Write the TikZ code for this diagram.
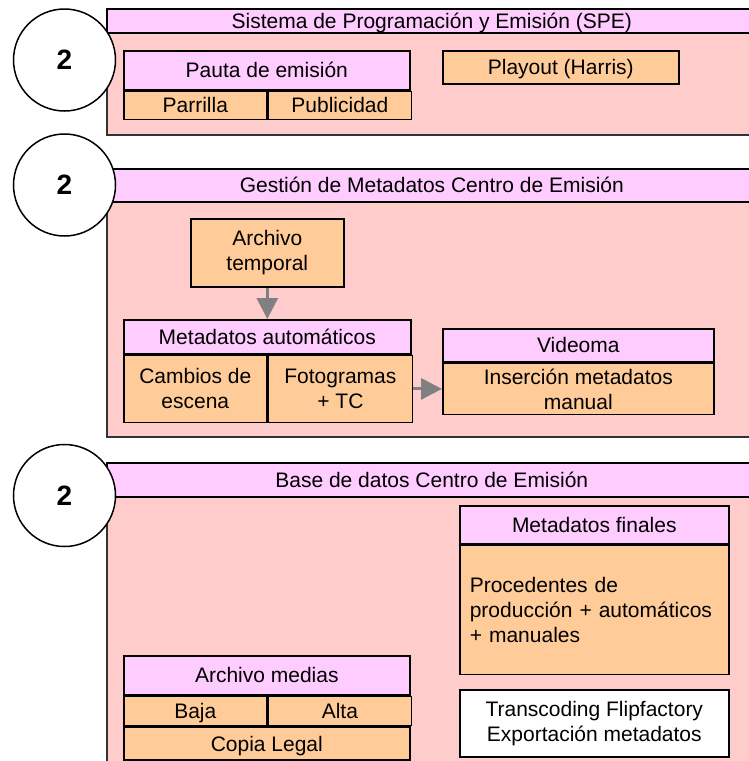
\documentclass[tikz,border=0pt]{standalone}
\usepackage{fontspec}
\setmainfont{Liberation Sans}
\usetikzlibrary{arrows.meta,positioning}

\definecolor{titlepink}{HTML}{FFCCFF}
\definecolor{bodypink}{HTML}{FFCCCC}
\definecolor{cellorange}{HTML}{FFCC99}
\definecolor{arrowgray}{HTML}{808080}

\begin{document}
\begin{tikzpicture}[x=1pt,y=-1pt,
        font=\fontsize{21}{25}\selectfont,
        sect/.style={draw=black!80, line width=1.6pt, fill=bodypink, anchor=north west, inner sep=0pt, minimum width=650pt},
        bar/.style={draw=black, line width=1.6pt, fill=titlepink, anchor=north west, inner sep=0pt, text height=15pt, text depth=0pt},
        cell/.style={draw=black, line width=1.6pt, fill=cellorange, anchor=north west, inner sep=0pt},
        one/.style={text height=15pt, text depth=0pt},
        num/.style={circle, draw, line width=1.5pt, fill=white, minimum size=102pt, inner sep=0pt, font=\fontsize{28}{30}\selectfont\bfseries},
        flecha/.style={-{Triangle[length=21pt,width=21pt]}, line width=3pt, draw=arrowgray}]

        \useasboundingbox (0,0) rectangle (749,761);
        \clip (0,0) rectangle (749,761);

        %Sistema de Programacion y Emision
        \node[sect, minimum height=126pt] (spe) at (106,8) {};
        \node[bar, minimum width=650pt, minimum height=24pt] (spetitulo) at (106,8) {Sistema de Programación y Emisión (SPE)};
        \node[num] (num1) at (64.5,60) {2};

        %Pauta de emision
        \node[bar, minimum width=286pt, minimum height=39pt] (pauta) at (123,50) {Pauta de emisión};
        \node[cell, one, minimum width=143pt, minimum height=28pt] (parrilla) at (pauta.south west) {Parrilla};
        \node[cell, one, minimum width=143pt, minimum height=28pt] (publicidad) at (parrilla.north east) {Publicidad};

        %Playout
        \node[cell, one, minimum width=236pt, minimum height=33pt] (playout) at (442,50) {Playout (Harris)};


        %Gestion de Metadatos Centro de Emision
        \node[sect, minimum height=268pt] (gestion) at (106,168) {};
        \node[bar, minimum width=650pt, minimum height=33pt] (gestiontitulo) at (106,168) {Gestión de Metadatos Centro de Emisión};
        \node[num] (num2) at (64.5,185) {2};

        %Archivo temporal
        \node[cell, align=center, minimum width=153pt, minimum height=68pt] (temporal) at (190,218) {Archivo\\temporal};

        %Metadatos automaticos
        \node[bar, minimum width=287pt, minimum height=34pt] (automaticos) at (123,319) {Metadatos automáticos};
        \node[cell, align=center, minimum width=143pt, minimum height=67pt] (cambios) at (automaticos.south west) {Cambios de\\escena};
        \node[cell, align=center, minimum width=144pt, minimum height=67pt] (fotogramas) at (cambios.north east) {Fotogramas\\+ TC};

        %Videoma
        \node[bar, minimum width=271pt, minimum height=33pt] (videoma) at (442,328) {Videoma};
        \node[cell, align=center, minimum width=271pt, minimum height=51pt] (insercion) at (videoma.south west) {Inserción metadatos\\manual};

        %flechas
        \draw[flecha] (temporal.south) -- (automaticos.north);
        \draw[flecha] (fotogramas.east) -- (insercion.west);


        %Base de datos Centro de Emision
        \node[sect, minimum height=320pt] (base) at (106,462) {};
        \node[bar, minimum width=650pt, minimum height=34pt] (basetitulo) at (106,462) {Base de datos Centro de Emisión};
        \node[num] (num3) at (64.5,495.5) {2};

        %Metadatos finales
        \node[bar, minimum width=269pt, minimum height=38pt] (finales) at (459,505) {Metadatos finales};
        \node[cell, text width=249pt, align=left, minimum width=269pt, minimum height=129pt] (procedentes) at (finales.south west) {Procedentes de\\producción + automáticos\\+ manuales};

        %Transcoding
        \node[cell, fill=white, align=center, minimum width=269pt, minimum height=67pt] (transcoding) at (459,689) {Transcoding Flipfactory\\Exportación metadatos};

        %Archivo medias
        \node[bar, minimum width=286pt, minimum height=39pt] (medias) at (123,655) {Archivo medias};
        \node[cell, one, minimum width=143pt, minimum height=29pt] (baja) at (medias.south west) {Baja};
        \node[cell, one, minimum width=143pt, minimum height=29pt] (alta) at (baja.north east) {Alta};
        \node[cell, one, minimum width=286pt, minimum height=33pt] (copia) at (baja.south west) {Copia Legal};

\end{tikzpicture}
\end{document}
